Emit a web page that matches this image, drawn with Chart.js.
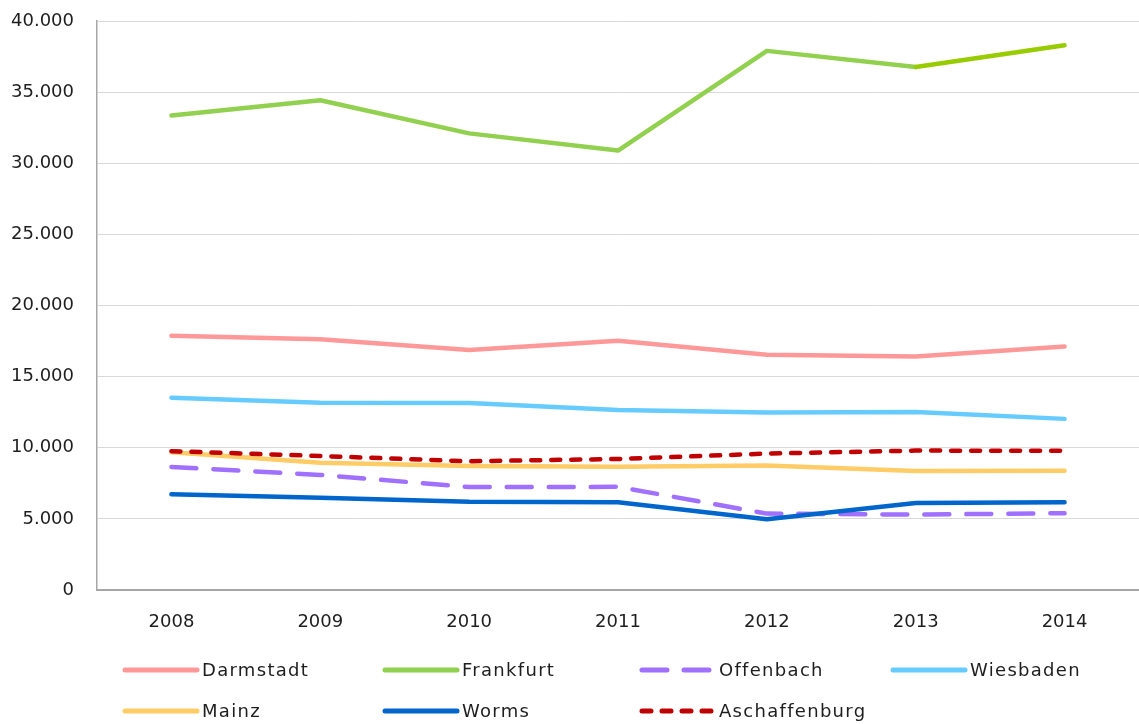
<!DOCTYPE html>
<html>
<head>
<meta charset="utf-8">
<script src="https://cdn.jsdelivr.net/npm/chart.js@4"></script>
<style>
  html, body { margin: 0; padding: 0; background: #fff; }
  #chart { display: block; }
</style>
</head>
<body>
<canvas id="chart" width="1139" height="724"></canvas>
<script>
  'use strict';

  // Data
  const years = ['2008', '2009', '2010', '2011', '2012', '2013', '2014'];
  const darmstadt     = [17870, 17630, 16880, 17530, 16530, 16410, 17110];
  const frankfurt     = [33360, 34430, 32100, 30890, 37900, 36770, 38290];
  const offenbach     = [8650, 8090, 7240, 7250, 5370, 5300, 5400];
  const wiesbaden     = [13520, 13170, 13140, 12660, 12470, 12520, 12030];
  const mainz         = [9690, 8950, 8720, 8660, 8760, 8370, 8390];
  const worms         = [6730, 6490, 6210, 6170, 4970, 6120, 6160];
  const aschaffenburg = [9760, 9420, 9050, 9210, 9590, 9800, 9790];
  const yTicks = [0, 5000, 10000, 15000, 20000, 25000, 30000, 35000, 40000];

  const FONT = '"DejaVu Sans", sans-serif';
  const TEXT = '#1e1e1e';

  const series = [
    { label: 'Darmstadt', data: darmstadt, color: '#ff9999', dash: [] },
    { label: 'Frankfurt', data: frankfurt, color: '#92d050', dash: [] },
    { label: 'Offenbach', data: offenbach, color: '#a070ff', dash: [25, 17] },
    { label: 'Wiesbaden', data: wiesbaden, color: '#66ccff', dash: [] },
    { label: 'Mainz', data: mainz, color: '#ffcc66', dash: [] },
    { label: 'Worms', data: worms, color: '#0066cc', dash: [] },
    { label: 'Aschaffenburg', data: aschaffenburg, color: '#c00000', dash: [9, 11] }
  ];

  function formatThousands(v) {
    return String(v).replace(/\B(?=(\d{3})+(?!\d))/g, '.');
  }

  /**
   * Legend in four fixed columns, like the spreadsheet original
   */
  const gridLegend = {
    id: 'gridLegend',
    afterDraw: function (chart) {
      const ctx = chart.ctx;
      const colX = [125, 385, 642, 893], lineLen = 72, rowY = [670, 711];
      ctx.save();
      ctx.font = '18px ' + FONT;
      ctx.letterSpacing = '1.3px';
      ctx.fillStyle = TEXT;
      ctx.textBaseline = 'middle';
      series.forEach(function (s, i) {
        const x = colX[i % 4];
        const y = rowY[Math.floor(i / 4)];
        ctx.strokeStyle = s.color;
        ctx.lineWidth = 5;
        ctx.lineCap = 'round';
        ctx.setLineDash(s.dash);
        ctx.beginPath();
        ctx.moveTo(x, y);
        ctx.lineTo(x + lineLen, y);
        ctx.stroke();
        ctx.setLineDash([]);
        ctx.fillText(s.label, x + lineLen + 5, y + 1);
      });
      ctx.restore();
    }
  };

  const datasets = series.map(function (s, i) {
    const ds = {
      label: s.label,
      data: s.data,
      borderColor: s.color,
      backgroundColor: s.color,
      borderWidth: 4.5,
      borderDash: s.dash,
      borderCapStyle: 'round',
      borderJoinStyle: 'round',
      pointRadius: 0,
      tension: 0,
      fill: false,
      order: series.length - i   // later series drawn on top
    };
    if (s.label === 'Frankfurt') {
      // last segment is a slightly darker green in the original
      ds.segment = {
        borderColor: function (c) { return c.p0DataIndex === 5 ? '#99cc00' : undefined; }
      };
    }
    return ds;
  });

  new Chart(document.getElementById('chart').getContext('2d'), {
    type: 'line',
    data: { labels: years, datasets: datasets },
    options: {
      responsive: false,
      animation: false,
      devicePixelRatio: 1,
      layout: { padding: { top: 21, right: 0, bottom: 0, left: 0 } },
      plugins: {
        legend: { display: false },
        tooltip: { enabled: false }
      },
      scales: {
        x: {
          offset: true,
          grid: { display: false, drawTicks: false },
          border: { display: true, color: '#a6a6a6', width: 2 },
          ticks: {
            color: TEXT,
            padding: 22,
            font: { family: FONT, size: 18 }
          },
          afterFit: function (scale) { scale.height = 134; }
        },
        y: {
          min: 0,
          max: 40000,
          afterBuildTicks: function (scale) {
            scale.ticks = yTicks.map(function (v) { return { value: v }; });
          },
          grid: { color: '#d9d9d9', lineWidth: 1, drawTicks: false },
          border: { display: true, color: '#a6a6a6', width: 1.5 },
          ticks: {
            color: TEXT,
            padding: 23,
            font: { family: FONT, size: 18 },
            callback: function (v) { return formatThousands(v); }
          },
          afterFit: function (scale) {
            scale.width = 97;
            // label overflow must not push the plot area down
            scale.paddingTop = 0;
            scale.paddingBottom = 0;
          }
        }
      }
    },
    plugins: [gridLegend]
  });
</script>
</body>
</html>
